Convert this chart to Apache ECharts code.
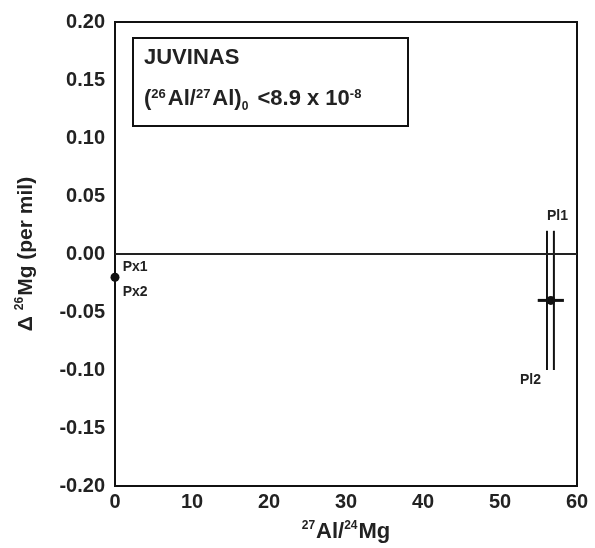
<!DOCTYPE html>
<html><head><meta charset="utf-8">
<script src="https://cdn.jsdelivr.net/npm/echarts@6/dist/echarts.min.js"></script>
<style>html,body{margin:0;padding:0;background:#fff}#c{width:595px;height:548px}</style>
</head><body><div id="c"></div>
<script>
// Data
const pointNames = ['Px1/Px2', 'Pl1/Pl2'];
const pointX = [0, 56.6];
const pointY = [-0.02, -0.04];
const pointXLow = [0, 54.9];
const pointXHigh = [0, 58.3];
// vertical error bars (individual analyses)
const barNames = ['Px', 'Pl1', 'Pl2'];
const barX = [0, 56.1, 57.0];
const barYLow = [-0.08, -0.10, -0.10];
const barYHigh = [0.04, 0.02, 0.02];
const labelNames = ['Px1', 'Px2', 'Pl1', 'Pl2'];
const labelX = [1.0, 1.0, 56.1, 52.6];
const labelY = [-0.011, -0.033, 0.033, -0.109];
const xTicks = [0, 10, 20, 30, 40, 50, 60];
const yTicks = [-0.20, -0.15, -0.10, -0.05, 0.00, 0.05, 0.10, 0.15, 0.20];

const chart = echarts.init(document.getElementById('c'));
const FONT = 'Liberation Sans';
const bold = {fontFamily: FONT, fontWeight: 'bold', color: '#222'};

chart.setOption({
  animation: false,
  backgroundColor: '#fff',
  grid: {left: 115, right: 18, top: 22, bottom: 60, show: true, borderColor: '#111', borderWidth: 2, backgroundColor: 'transparent'},
  xAxis: {
    type: 'value', min: 0, max: 60, interval: 10,
    axisLine: {show: false}, axisTick: {show: false}, splitLine: {show: false},
    axisLabel: Object.assign({fontSize: 20, margin: 6}, bold),
    name: '{sup|27}{b|Al/}{sup|24}{b|Mg}', nameLocation: 'middle', nameGap: 34,
    nameTextStyle: {rich: {
      b: Object.assign({fontSize: 22}, bold),
      sup: Object.assign({fontSize: 12, verticalAlign: 'bottom', padding: [0,1,12,0]}, bold)
    }}
  },
  yAxis: {
    type: 'value', min: -0.2, max: 0.2, interval: 0.05,
    axisLine: {show: false}, axisTick: {show: false}, splitLine: {show: false},
    axisLabel: Object.assign({fontSize: 20, margin: 10, formatter: v => v.toFixed(2)}, bold),
    name: '{b|Δ }{sup|26}{b|Mg (per mil)}', nameLocation: 'middle', nameGap: 77, nameRotate: 90,
    nameTextStyle: {rich: {
      b: Object.assign({fontSize: 21}, bold),
      sup: Object.assign({fontSize: 12, verticalAlign: 'bottom', padding: [0,1,12,0]}, bold)
    }}
  },
  series: [
    {
      type: 'line', data: [[0, 0], [60, 0]], symbol: 'none',
      lineStyle: {color: '#222', width: 2}, silent: true
    },
    {
      type: 'custom',
      data: barX.map((x, i) => [x, barYLow[i], barYHigh[i]]),
      renderItem: (params, api) => {
        const a = api.coord([api.value(0), api.value(1)]);
        const b = api.coord([api.value(0), api.value(2)]);
        return {type: 'line', shape: {x1: a[0], y1: a[1], x2: b[0], y2: b[1]}, style: {stroke: '#111', lineWidth: 2}};
      }
    },
    {
      type: 'custom',
      data: pointX.map((x, i) => [pointXLow[i], pointXHigh[i], pointY[i]]),
      renderItem: (params, api) => {
        const a = api.coord([api.value(0), api.value(2)]);
        const b = api.coord([api.value(1), api.value(2)]);
        return {type: 'line', shape: {x1: a[0], y1: a[1], x2: b[0], y2: b[1]}, style: {stroke: '#111', lineWidth: 3}};
      }
    },
    {
      type: 'scatter', symbolSize: 9, itemStyle: {color: '#111', opacity: 1},
      data: pointX.map((x, i) => [x, pointY[i]])
    },
    {
      type: 'scatter', symbolSize: 0, itemStyle: {opacity: 1},
      data: labelX.map((x, i) => ({value: [x, labelY[i]], name: labelNames[i]})),
      label: Object.assign({show: true, position: 'right', fontSize: 14, distance: 0, formatter: p => p.name}, bold)
    }
  ],
  graphic: [
    {type: 'rect', left: 132, top: 37, shape: {width: 275, height: 88}, style: {fill: '#fff', stroke: '#111', lineWidth: 2}},
    {type: 'text', left: 144, top: 47, style: {text: 'JUVINAS', font: 'bold 22px "Liberation Sans"', fill: '#222'}},
    {type: 'text', left: 144, top: 88, style: {
      text: '{b|(}{sup|26}{b|Al/}{sup|27}{b|Al)}{sub|0}{b| <8.9 x 10}{sup|-8}',
      rich: {
        b: {font: 'bold 22px "Liberation Sans"', fill: '#222'},
        sup: {font: 'bold 13px "Liberation Sans"', fill: '#222', verticalAlign: 'bottom', padding: [0,2,12,0]},
        sub: {font: 'bold 12px "Liberation Sans"', fill: '#222', verticalAlign: 'top', padding: [16,3,0,0]}
      }
    }}
  ]
});
</script></body></html>
